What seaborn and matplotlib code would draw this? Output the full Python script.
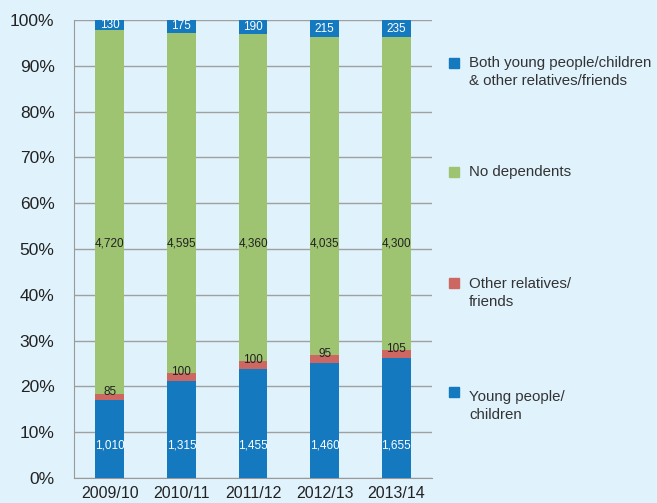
import pandas as pd
import matplotlib.pyplot as plt
import matplotlib.patches as mpatches
import seaborn as sns

# valores
years = ['2009/10', '2010/11', '2011/12', '2012/13', '2013/14']
young = [1010, 1315, 1455, 1460, 1655]
other = [85, 100, 100, 95, 105]
no_dep = [4720, 4595, 4360, 4035, 4300]
both = [130, 175, 190, 215, 235]

legend_labels = ['Both young people/children\n& other relatives/friends',
                 'No dependents',
                 'Other relatives/\nfriends',
                 'Young people/\nchildren']

BG = '#e0f2fc'
BLUE = '#1479bf'
GREEN = '#9ec472'
RED = '#cd6761'

df = pd.DataFrame({'year': years, 'young': young, 'other': other,
                   'none': no_dep, 'both': both})
total = df[['young', 'other', 'none', 'both']].sum(axis=1)
for c in ['young', 'other', 'none', 'both']:
    df[c + '_p'] = df[c] / total * 100

sns.set_style('white')
plt.rcParams['font.family'] = ['Liberation Sans', 'DejaVu Sans']

fig = plt.figure(figsize=(6.57, 5.03), dpi=100, facecolor=BG)
ax = fig.add_axes([0.1126, 0.0497, 0.545, 0.9105])
ax.set_facecolor(BG)

bottom = pd.Series([0.0] * len(df))
layers = [('young', BLUE), ('other', RED), ('none', GREEN), ('both', BLUE)]
tops = {}
for name, col in layers:
    sns.barplot(x=df['year'], y=df[name + '_p'], bottom=bottom.values, color=col,
                width=0.4, ax=ax, saturation=1, edgecolor='none', zorder=3)
    tops[name] = (bottom + df[name + '_p']).values
    bottom = bottom + df[name + '_p']

narrow = ['Liberation Sans Narrow', 'Liberation Sans', 'DejaVu Sans']
for i in range(len(df)):
    ax.text(i, 7.2, f"{df['young'][i]:,}", ha='center', va='center', color='white',
            fontsize=8.5, family=narrow, zorder=4)
    ax.text(i, tops['young'][i] + df['other_p'][i] + 0.3, f"{df['other'][i]:,}",
            ha='center', va='center', color='#222222', fontsize=8.5, family=narrow, zorder=4)
    ax.text(i, 51.3, f"{df['none'][i]:,}", ha='center', va='center', color='#222222',
            fontsize=8.5, family=narrow, zorder=4)
    ax.text(i, (tops['none'][i] + 100) / 2, f"{df['both'][i]:,}", ha='center',
            va='center', color='white', fontsize=8.5, family=narrow, zorder=4)

ax.set_ylim(0, 100)
ax.set_xlim(-0.5, 4.5)
ax.set_yticks(range(0, 101, 10))
ax.set_yticklabels([f'{v}%' for v in range(0, 101, 10)], fontsize=12.5, color='#222222')
ax.set_xticks(range(5))
ax.set_xticklabels(years, fontsize=11.5, color='#222222')
ax.set_xticks([x - 0.5 for x in range(6)], minor=True)
ax.tick_params(axis='x', which='major', length=0, pad=6)
ax.tick_params(axis='x', which='minor', length=6, color='#999999', width=1)
ax.tick_params(axis='y', length=6, color='#999999', width=1, pad=8)
ax.grid(axis='y', color='#a0a0a0', linewidth=1, zorder=0)
ax.set_axisbelow(True)
ax.set_xlabel('')
ax.set_ylabel('')
for s in ['top', 'right']:
    ax.spines[s].set_visible(False)
ax.spines['left'].set_color('#999999')
ax.spines['bottom'].set_color('#999999')

# leyenda a la derecha
leg_colors = [BLUE, GREEN, RED, BLUE]
leg_y = [0.875, 0.659, 0.439, 0.222]
txt_y = [0.857, 0.659, 0.417, 0.192]
for lab, col, y, ty in zip(legend_labels, leg_colors, leg_y, txt_y):
    fig.patches.append(mpatches.Rectangle((0.683, y - 0.011), 0.0155, 0.02,
                                          transform=fig.transFigure, color=col))
    fig.text(0.714, ty, lab, fontsize=10.8, color='#333333', va='center',
             linespacing=1.35)

plt.savefig('out.png', dpi=100, facecolor=BG)
